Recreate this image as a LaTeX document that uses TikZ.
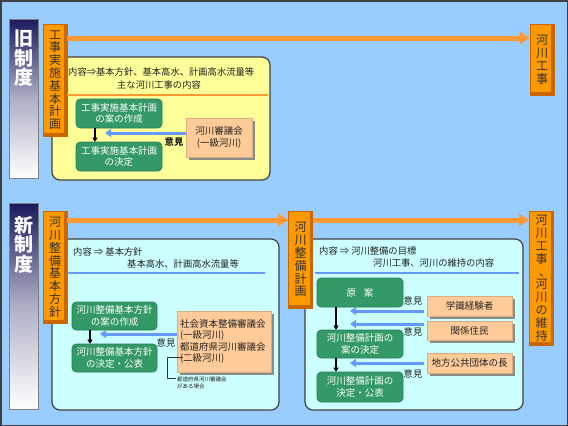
\documentclass[tikz,border=0pt]{standalone}
\usepackage{fontspec}
\setmainfont{Noto Sans CJK JP}
\usetikzlibrary{arrows.meta,shadows}
\definecolor{bgblue}{HTML}{99CCFF}
\definecolor{orng}{HTML}{FF9900}
\definecolor{orngD}{HTML}{CC6600}
\definecolor{orngL}{HTML}{FF9933}
\definecolor{ylw}{HTML}{FFFF99}
\definecolor{cyn}{HTML}{CCFFFF}
\definecolor{grn}{HTML}{339966}
\definecolor{grnD}{HTML}{2A7F55}
\definecolor{slmn}{HTML}{FFCC99}
\definecolor{blu}{HTML}{6699FF}
\definecolor{navyc}{HTML}{1A1A5E}
\definecolor{txt}{HTML}{222222}
\begin{document}
\begin{tikzpicture}[x=1pt,y=-1pt,
  obox/.style={fill=orng, draw=orngD, line width=0.6, minimum width=24, inner sep=0,
    align=center, text=black!80, font=\fontsize{12}{12.8}\selectfont,
    path picture={
      \fill[orngD] ([xshift=-3pt]path picture bounding box.north east) rectangle (path picture bounding box.south east);
      \fill[orngD] ([yshift=3pt]path picture bounding box.south west) rectangle (path picture bounding box.south east);}},
  gbox/.style={fill=grn, draw=grnD, line width=0.6, rounded corners=4, text=white, align=center,
    font=\fontsize{9.5}{11.5}\selectfont, minimum width=86, inner sep=1},
  sbox/.style={fill=slmn, draw=slmn!85!black, line width=0.4, text=txt, align=center,
    font=\fontsize{9.5}{11.5}\selectfont, inner sep=1,
    drop shadow={shadow xshift=2.5pt, shadow yshift=-2.5pt, fill=black!45, opacity=1}},
  bigbox/.style={draw=black!75, line width=1.2, rounded corners=8, inner sep=0},
  hdr/.style={anchor=west, inner sep=0, text=txt, font=\fontsize{9.3}{11}\selectfont},
  lbl/.style={inner sep=0, text=txt, font=\fontsize{9.3}{11}\selectfont},
  oarrow/.style={draw=orngL, line width=5, -{Triangle[length=10pt,width=12pt]}},
  barrow/.style={draw=blu, line width=3, -{Triangle[length=6pt,width=8pt]}},
  karrow/.style={draw=black, line width=1.3, -{Triangle[length=4pt,width=5pt]}},
  bartxt/.style={anchor=north, inner sep=0, text=white, align=center,
    font=\bfseries\fontsize{19}{19.5}\selectfont}
]
\useasboundingbox (0,0) rectangle (568,426);
\fill[bgblue] (0,0) rectangle (568,426);
\draw[black!75, line width=1.5] (0.75,0.75) rectangle (567.25,425.25);

% ---------------- old system ----------------
\shade[top color=navyc, bottom color=white, middle color=navyc!35!white] (9,19) rectangle (38,178);
\draw[black!50, line width=0.6] (9,19) rectangle (38,178);
\node[bartxt] (oldtxt) at (23.5,30) {旧\\制\\度};

\node[bigbox, fill=ylw, minimum width=218, minimum height=123] (ybox) at (161,118.5) {};
\node[obox, minimum height=112] (kj) at (55,80) {工\\事\\実\\施\\基\\本\\計\\画};
\node[obox, minimum height=71] (kk1) at (542,59.5) {河\\川\\工\\事};
\coordinate (oy) at (0,38);
\draw[oarrow] (kj.east |- oy) -- (kk1.west |- oy);

\node[hdr] (yh1) at (68,72) {内容⇒基本方針、基本高水、計画高水流量等};
\node[lbl] (yh2) at (159,85) {主な河川工事の内容};
\coordinate (yl1) at (67,95);
\coordinate (yl2) at (268,95);
\draw[orngL, line width=1.8] (yl1) -- (yl2);

\node[gbox, minimum height=29] (g1) at (119,113.5) {工事実施基本計画\\の案の作成};
\node[gbox, minimum height=29] (g2) at (119,156.5) {工事実施基本計画\\の決定};
\node[sbox, minimum width=66, minimum height=39] (s1) at (219,137.5) {河川審議会\\(一級河川)};
\coordinate (k1x) at (95,0);
\draw[karrow] (g1.south -| k1x) -- (g2.north -| k1x);
\coordinate (b1y) at (0,133);
\coordinate (b1e) at (105,133);
\draw[barrow] (s1.west |- b1y) -- (b1e);
\node[lbl, font=\bfseries\fontsize{9.3}{11}\selectfont] (o1) at (174,142) {意見};

% ---------------- new system ----------------
\shade[top color=navyc, bottom color=white, middle color=navyc!35!white] (9,203) rectangle (38,409);
\draw[black!50, line width=0.6] (9,203) rectangle (38,409);
\node[bartxt] (newtxt) at (23.5,216) {新\\制\\度};

\node[bigbox, fill=cyn, minimum width=227, minimum height=171] (c1) at (165.5,324.5) {};
\node[bigbox, fill=cyn, minimum width=218, minimum height=171] (c2) at (414,324.5) {};

\node[obox, minimum height=112] (kh) at (55,267) {河\\川\\整\\備\\基\\本\\方\\針};
\node[obox, minimum height=97] (ks) at (300.5,259.5) {河\\川\\整\\備\\計\\画};
\node[obox, minimum height=134] (kk2) at (541.5,278)
  {河\\川\\工\\事\\\hspace*{7pt}、\\河\\川\\の\\維\\持};
\coordinate (ny) at (0,220);
\draw[oarrow] (kh.east |- ny) -- (ks.west |- ny);
\draw[oarrow] (ks.east |- ny) -- (kk2.west |- ny);

% left cyan box
\node[hdr] (ch1) at (73,252) {内容 ⇒ 基本方針};
\node[hdr] (ch2) at (127,264) {基本高水、計画高水流量等};
\coordinate (cl1) at (67,273);
\coordinate (cl2) at (265,273);
\draw[blu, line width=1.8] (cl1) -- (cl2);

\node[gbox, minimum width=85, minimum height=28] (gA) at (114.5,316) {河川整備基本方針\\の案の作成};
\node[gbox, minimum width=85, minimum height=28] (gB) at (114.5,358) {河川整備基本方針\\の決定・公表};
\node[sbox, minimum width=94, minimum height=61, align=left, text width=88] (s2) at (224,341.5)
  {社会資本整備審議会\\(一級河川)\\都道府県河川審議会\\(二級河川)};
\coordinate (k2x) at (90,0);
\draw[karrow] (gA.south -| k2x) -- (gB.north -| k2x);
\coordinate (b2y) at (0,334);
\coordinate (b2e) at (100,334);
\draw[barrow] (s2.west |- b2y) -- (b2e);
\node[lbl] (o2) at (166,343) {意見};
\coordinate (br1) at (183,357);
\coordinate (br2) at (167.5,357);
\coordinate (br3) at (167.5,378);
\coordinate (br4) at (176,378);
\draw[black!80, line width=0.6] (br1) -- (br2) -- (br3) -- (br4);
\node[anchor=north west, inner sep=0, align=left, text=txt, font=\fontsize{5.5}{7}\selectfont] (note) at (177,377)
  {都道府県河川審議会\\がある場合};

% right cyan box
\node[hdr] (dh1) at (319,251) {内容 ⇒ 河川整備の目標};
\node[hdr] (dh2) at (373,263) {河川工事、河川の維持の内容};
\coordinate (dl1) at (315,273);
\coordinate (dl2) at (519,273);
\draw[blu, line width=1.8] (dl1) -- (dl2);

\node[gbox, minimum height=29] (gC) at (360,292.5) {原\hspace{0.8em}案};
\node[gbox, minimum height=28] (gD) at (360,344) {河川整備計画の\\案の決定};
\node[gbox, minimum height=30] (gE) at (360,387) {河川整備計画の\\決定・公表};
\coordinate (k3x) at (336,0);
\draw[karrow] (gC.south -| k3x) -- (gD.north -| k3x);
\draw[karrow] (gD.south -| k3x) -- (gE.north -| k3x);

\node[sbox, minimum width=85, minimum height=20] (sa) at (469.5,306) {学識経験者};
\node[sbox, minimum width=85, minimum height=19] (sb) at (469.5,330.5) {関係住民};
\node[sbox, minimum width=85, minimum height=20] (sc) at (469.5,363) {地方公共団体の長};

\coordinate (e1) at (350,311);
\coordinate (e2) at (350,324);
\coordinate (e3) at (350,363);
\draw[barrow] ([xshift=-3pt]sa.west |- e1) -- (e1);
\draw[barrow] ([xshift=-3pt]sb.west |- e2) -- (e2);
\draw[barrow] ([xshift=-3pt]sc.west |- e3) -- (e3);
\node[lbl] (oa) at (413,301) {意見};
\node[lbl] (ob) at (413,332) {意見};
\node[lbl] (oc) at (413,374) {意見};
\end{tikzpicture}
\end{document}
